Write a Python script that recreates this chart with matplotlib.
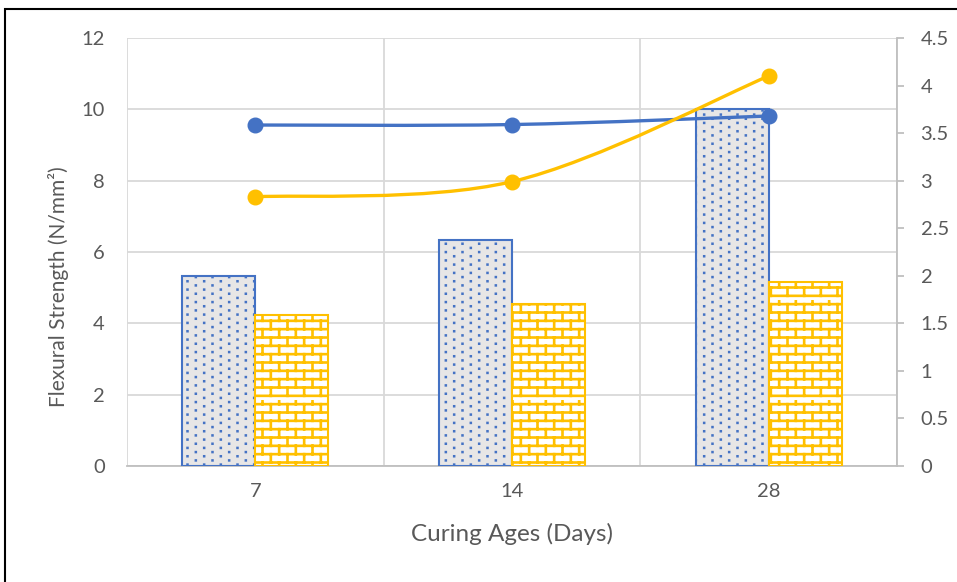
import warnings
import numpy as np
import matplotlib
matplotlib.use("Agg")
import matplotlib.pyplot as plt
from matplotlib import hatch as mhatch
from matplotlib.path import Path
from matplotlib.patches import PathPatch, Rectangle

warnings.filterwarnings("ignore")

# data
ages = ["7", "14", "28"]
strength_a = [5.33, 6.34, 10.0]    # dotted bars, left axis
strength_b = [4.23, 4.54, 5.16]    # brick bars, left axis
line_blue = [3.585, 3.59, 3.68]    # right axis
line_yellow = [2.83, 2.99, 4.10]   # right axis

blue = "#4472c4"
yellow = "#ffc000"
grey_text = "#595959"
grid_col = "#d9d9d9"


# custom hatches: 'b' = brick wall, 'd' = staggered dots
class BrickHatch(mhatch.HatchPatternBase):
    rows, cols = 12, 6

    def __init__(self, hatch, density):
        on = hatch.count("b") > 0
        self.num_vertices = (self.rows * 2 + self.rows * self.cols * 2) if on else 0

    def set_vertices_and_codes(self, vertices, codes):
        v = []
        for k in range(self.rows):
            y = (k + 0.5) / self.rows
            v += [(0.0, y), (1.0, y)]
        for k in range(self.rows):
            y0 = (k + 0.5) / self.rows
            y1 = (k + 1.5) / self.rows
            off = 0.25 if k % 2 == 0 else 0.75
            for j in range(self.cols):
                x = (j + off) / self.cols
                v += [(x, y0), (x, y1)]
        vertices[:] = np.array(v)
        codes[0::2] = Path.MOVETO
        codes[1::2] = Path.LINETO


class DotHatch(mhatch.HatchPatternBase):
    rows, cols = 24, 6
    size = 0.005

    def __init__(self, hatch, density):
        on = hatch.count("d") > 0
        self.num_vertices = self.rows * self.cols * 5 if on else 0

    def set_vertices_and_codes(self, vertices, codes):
        v = []
        s = self.size
        for k in range(self.rows):
            y = (k + 0.5) / self.rows
            off = 0.25 if k % 2 == 0 else 0.75
            for j in range(self.cols):
                x = (j + off) / self.cols
                v += [(x - s, y - s), (x + s, y - s), (x + s, y + s),
                      (x - s, y + s), (x - s, y - s)]
        vertices[:] = np.array(v)
        c = [Path.MOVETO, Path.LINETO, Path.LINETO, Path.LINETO, Path.CLOSEPOLY]
        codes[:] = np.tile(c, self.rows * self.cols)


mhatch._hatch_types.append(BrickHatch)
mhatch._hatch_types.append(DotHatch)

plt.rcParams["font.family"] = ["Lato", "DejaVu Sans"]
plt.rcParams["hatch.linewidth"] = 1.6

fig = plt.figure(figsize=(9.57, 5.82), dpi=100)
ax = fig.add_axes([127 / 957, 1 - 466 / 582, 770 / 957, 428 / 582])

x = np.arange(len(ages))
w = 0.285
bars_a = ax.bar(x - w / 2, strength_a, w, facecolor="#e7e6e6", edgecolor=blue,
                linewidth=1.5, hatch="d", zorder=3)
bars_b = ax.bar(x + w / 2, strength_b, w, facecolor="white", edgecolor=yellow,
                linewidth=1.5, hatch="b", zorder=3)
for p in list(bars_a) + list(bars_b):
    if hasattr(p, "set_hatch_linewidth"):
        p.set_hatch_linewidth(1.9 if p in bars_b else 1.1)

ax.set_xlim(-0.5, len(ages) - 0.5)
ax.set_ylim(0, 12)
ax.set_yticks(np.arange(0, 13, 2))
ax.set_xticks(x)
ax.set_xticklabels(ages)
ax.yaxis.grid(True, color=grid_col, linewidth=1.3, zorder=0)
for b in np.arange(-0.5, len(ages), 1.0):
    ax.axvline(b, color=grid_col, linewidth=1.3, zorder=0)
for s in ["top", "left", "right"]:
    ax.spines[s].set_visible(False)
ax.spines["bottom"].set_color("#bfbfbf")
ax.spines["bottom"].set_linewidth(1.3)
ax.tick_params(axis="y", length=0, pad=16, labelsize=14.5, labelcolor=grey_text)
ax.tick_params(axis="x", length=0, pad=12, labelsize=14.5, labelcolor=grey_text)
ax.set_xlabel("Curing Ages (Days)", fontsize=17.5, color=grey_text)
ax.set_ylabel("Flexural Strength (N/mm²)", fontsize=15, color=grey_text)
ax.xaxis.set_label_coords(0.5, -0.133)
ax.yaxis.set_label_coords(-0.075, 0.42)
ax.set_axisbelow(True)

ax2 = ax.twinx()
ax2.set_ylim(0, 4.5)
ax2.set_yticks(np.arange(0, 4.51, 0.5))
ax2.set_yticklabels(["0", "0.5", "1", "1.5", "2", "2.5", "3", "3.5", "4", "4.5"])
for s in ["top", "left", "bottom"]:
    ax2.spines[s].set_visible(False)
ax2.spines["right"].set_color("#bfbfbf")
ax2.spines["right"].set_linewidth(1.3)
ax2.tick_params(axis="y", length=5, width=1.3, color="#bfbfbf", pad=12,
                labelsize=14.5, labelcolor=grey_text)


def smooth_path(xs, ys):
    # Catmull-Rom style bezier through the points (like a smoothed line)
    pts = np.column_stack([xs, ys]).astype(float)
    ext = np.vstack([pts[0], pts, pts[-1]])
    verts = [pts[0]]
    codes = [Path.MOVETO]
    for i in range(len(pts) - 1):
        p0, p1, p2, p3 = ext[i], ext[i + 1], ext[i + 2], ext[i + 3]
        c1 = p1 + (p2 - p0) / 6
        c2 = p2 - (p3 - p1) / 6
        verts += [c1, c2, p2]
        codes += [Path.CURVE4] * 3
    return Path(verts, codes)


for vals, col in [(line_blue, blue), (line_yellow, yellow)]:
    ax2.add_patch(PathPatch(smooth_path(x, vals), facecolor="none", edgecolor=col,
                            linewidth=2.4, capstyle="round", zorder=4))
    ax2.plot(x, vals, linestyle="none", marker="o", markersize=10.5,
             color=col, zorder=5)

# outer frame
fig.patches.append(Rectangle((5 / 957, -0.1), 1.2, 1.1 - 9 / 582,
                             transform=fig.transFigure, fill=False,
                             edgecolor="black", linewidth=1.5, zorder=10))

fig.savefig("out.png", dpi=100)
